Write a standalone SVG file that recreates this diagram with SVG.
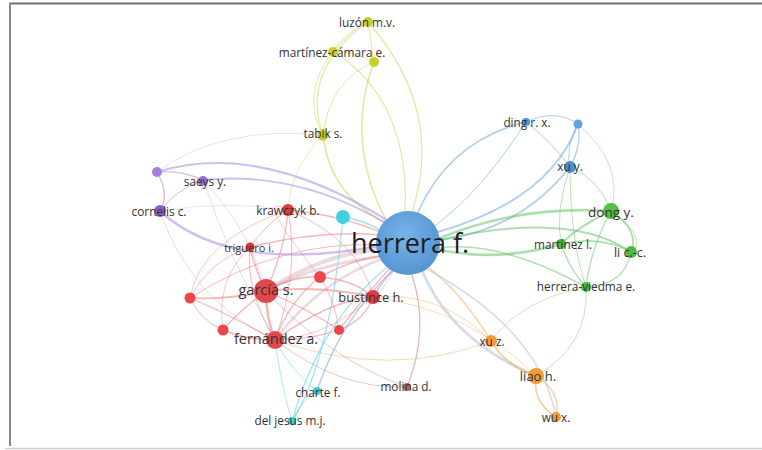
<svg xmlns="http://www.w3.org/2000/svg" width="762" height="450" viewBox="0 0 762 450">
<defs>
<radialGradient id="gH" cx="0.45" cy="0.4" r="0.6">
<stop offset="0" stop-color="#6fb0e6"/>
<stop offset="1" stop-color="#4d8fd0"/>
</radialGradient>
<style>
.e{fill:none;stroke-linecap:round;stroke-opacity:0.55}
.b{stroke:#6da7dc}
.r{stroke:#ee7b7b}
.g{stroke:#69c56a}
.y{stroke:#cdd45a}
.p{stroke:#a88be0}
.c{stroke:#4fd0e2}
.o{stroke:#f3a650}
.m{stroke:#c08079}
.x{stroke:#b9bfd0}
.l{stroke:#d9b9c6}
.t{font-family:"Open Sans","Liberation Sans",sans-serif;fill:#333;text-anchor:middle;dominant-baseline:central}
.s{font-size:11.8px}
.n{font-size:14.5px}
</style>
</defs>
<rect width="762" height="450" fill="#fff"/>
<line x1="9" y1="3.5" x2="762" y2="3.5" stroke="#6e6e6e" stroke-width="2"/>
<line x1="10" y1="3" x2="10" y2="446" stroke="#8a8a8a" stroke-width="2"/>
<line x1="5" y1="448.5" x2="762" y2="448.5" stroke="#d0d0d0" stroke-width="1.5"/>

<g id="connectors">
<!-- yellow -->
<path class="e y" stroke-width="1.3" d="M368,22 Q445,110 412,212"/>
<path class="e y" stroke-width="1.2" d="M333,51 Q410,100 405,212"/>
<path class="e y" stroke-width="1.6" d="M374,62 Q345,140 385,218"/>
<path class="e y" stroke-width="1.8" d="M323,135 Q330,195 385,222"/>
<path class="e y" stroke-width="1.2" d="M368,22 Q300,70 323,135"/>
<path class="e y" stroke-width="1.2" d="M333,51 Q350,30 368,22"/>
<path class="e y" stroke-width="1" d="M368,22 L374,62"/>
<path class="e y" stroke-width="1" d="M333,51 Q300,95 323,135"/>
<path class="e y" stroke-width="1" d="M374,62 Q330,80 323,135"/>
<path class="e y" stroke-width="1" d="M333,51 Q355,52 374,62"/>
<path class="e y" stroke-width="0.8" d="M323,135 Q290,170 288,210"/>
<path class="e x" stroke-width="0.8" d="M323,135 Q220,125 157,172"/>
<!-- purple -->
<path class="e p" stroke-width="2.2" d="M157,172 Q260,140 390,222"/>
<path class="e p" stroke-width="1.8" d="M203,180 Q300,170 390,226"/>
<path class="e p" stroke-width="2.4" d="M160,211 Q230,275 385,245"/>
<path class="e p" stroke-width="1.2" d="M157,172 Q180,170 203,180"/>
<path class="e p" stroke-width="1.4" d="M157,172 Q170,195 160,211"/>
<path class="e p" stroke-width="1" d="M203,180 Q175,190 160,211"/>
<path class="e l" stroke-width="0.9" d="M203,180 Q230,260 275,340"/>
<path class="e l" stroke-width="0.9" d="M160,211 Q190,300 275,340"/>
<path class="e l" stroke-width="0.9" d="M203,180 Q250,230 266,291"/>
<path class="e l" stroke-width="0.8" d="M160,211 Q230,200 288,210"/>
<!-- red -->
<path class="e l" stroke-width="4" d="M266,291 Q330,250 385,250"/>
<path class="e l" stroke-width="3" d="M266,291 Q320,262 388,256"/>
<path class="e l" stroke-width="2.5" d="M275,340 Q320,280 385,258"/>
<path class="e r" stroke-width="1.5" d="M250,247 Q320,230 380,235"/>
<path class="e r" stroke-width="1.3" d="M288,210 Q340,215 380,232"/>
<path class="e r" stroke-width="1.5" d="M373,297 Q390,270 395,270"/>
<path class="e r" stroke-width="1.5" d="M320,277 Q350,260 385,255"/>
<path class="e r" stroke-width="1.2" d="M339,330 Q370,290 390,268"/>
<path class="e r" stroke-width="1" d="M190,298 Q280,240 380,245"/>
<path class="e r" stroke-width="2.5" d="M266,291 Q266,318 275,340"/>
<path class="e r" stroke-width="1.5" d="M266,291 Q255,270 250,247"/>
<path class="e r" stroke-width="1.3" d="M266,291 Q285,250 288,210"/>
<path class="e r" stroke-width="1.8" d="M266,291 Q320,285 373,297"/>
<path class="e r" stroke-width="1.8" d="M266,291 Q230,300 190,298"/>
<path class="e r" stroke-width="1.5" d="M266,291 Q295,275 320,277"/>
<path class="e r" stroke-width="1.3" d="M266,291 Q240,310 223,330"/>
<path class="e r" stroke-width="1.3" d="M266,291 Q310,310 339,330"/>
<path class="e r" stroke-width="1.3" d="M275,340 Q220,310 190,298"/>
<path class="e r" stroke-width="1.3" d="M275,340 Q245,340 223,330"/>
<path class="e r" stroke-width="1.3" d="M275,340 Q310,340 339,330"/>
<path class="e r" stroke-width="1.5" d="M275,340 Q330,300 373,297"/>
<path class="e r" stroke-width="1.3" d="M275,340 Q290,300 320,277"/>
<path class="e r" stroke-width="1" d="M275,340 Q245,290 250,247"/>
<path class="e r" stroke-width="1" d="M275,340 Q300,270 288,210"/>
<path class="e r" stroke-width="1" d="M190,298 Q200,320 223,330"/>
<path class="e r" stroke-width="0.9" d="M190,298 Q210,260 250,247"/>
<path class="e r" stroke-width="1.3" d="M320,277 Q355,280 373,297"/>
<path class="e r" stroke-width="1.3" d="M339,330 Q365,320 373,297"/>
<path class="e r" stroke-width="1" d="M320,277 Q335,300 339,330"/>
<path class="e r" stroke-width="0.9" d="M288,210 Q360,240 373,297"/>
<path class="e r" stroke-width="1" d="M288,210 Q265,225 250,247"/>
<path class="e r" stroke-width="0.8" d="M288,210 Q200,240 190,298"/>
<path class="e r" stroke-width="0.8" d="M373,297 Q300,360 223,330"/>
<path class="e r" stroke-width="0.8" d="M223,330 Q215,280 250,247"/>
<path class="e r" stroke-width="0.8" d="M320,277 Q250,190 288,210"/>
<path class="e o" stroke-width="0.8" d="M275,340 Q390,380 491,341"/>
<path class="e o" stroke-width="0.8" d="M373,297 Q440,290 491,341"/>
<path class="e o" stroke-width="0.7" d="M373,297 Q470,310 536,376"/>
<path class="e m" stroke-width="0.8" d="M266,291 Q330,360 407,387"/>
<path class="e m" stroke-width="0.8" d="M275,340 Q340,390 407,387"/>
<!-- cyan -->
<path class="e c" stroke-width="1.5" d="M343,217 Q370,222 382,232"/>
<path class="e c" stroke-width="1.2" d="M343,217 Q330,360 292,422"/>
<path class="e b" stroke-width="1.5" d="M317,391 Q340,320 395,268"/>
<path class="e c" stroke-width="1.3" d="M292,422 Q320,320 390,265"/>
<path class="e c" stroke-width="1" d="M317,391 Q300,400 292,422"/>
<path class="e c" stroke-width="0.9" d="M292,422 Q280,380 275,340"/>
<path class="e c" stroke-width="0.9" d="M317,391 Q290,370 275,340"/>
<!-- molina -->
<path class="e m" stroke-width="1.3" d="M407,387 Q430,330 412,275"/>
<!-- blue -->
<path class="e b" stroke-width="1.6" d="M526,122 Q450,140 418,212"/>
<path class="e b" stroke-width="2" d="M578,124 Q550,200 438,232"/>
<path class="e b" stroke-width="1.8" d="M570,167 Q520,230 440,240"/>
<path class="e b" stroke-width="1" d="M526,122 Q555,108 578,124"/>
<path class="e b" stroke-width="1" d="M526,122 Q550,140 570,167"/>
<path class="e b" stroke-width="1.3" d="M578,124 Q582,145 570,167"/>
<path class="e b" stroke-width="1" d="M578,124 Q565,148 570,167"/>
<path class="e g" stroke-width="1" d="M570,167 Q600,180 611,211"/>
<path class="e g" stroke-width="0.9" d="M570,167 Q555,210 561,244"/>
<path class="e g" stroke-width="0.9" d="M570,167 Q570,240 586,287"/>
<path class="e g" stroke-width="0.8" d="M578,124 Q625,165 611,211"/>
<!-- green -->
<path class="e g" stroke-width="2.6" d="M611,211 Q520,205 440,238"/>
<path class="e g" stroke-width="2" d="M631,252 Q570,210 440,240"/>
<path class="e g" stroke-width="2.8" d="M561,244 Q500,262 440,250"/>
<path class="e g" stroke-width="1.5" d="M586,287 Q500,240 440,248"/>
<path class="e g" stroke-width="2" d="M611,211 Q580,225 561,244"/>
<path class="e g" stroke-width="1.8" d="M611,211 Q640,230 631,252"/>
<path class="e g" stroke-width="1.3" d="M611,211 Q590,250 586,287"/>
<path class="e g" stroke-width="1.6" d="M561,244 Q600,235 631,252"/>
<path class="e g" stroke-width="1.3" d="M561,244 Q570,270 586,287"/>
<path class="e g" stroke-width="1.2" d="M631,252 Q625,285 586,287"/>
<path class="e g" stroke-width="0.8" d="M611,211 Q650,240 631,252"/>
<path class="e g" stroke-width="0.8" d="M586,287 Q590,345 536,376"/>
<path class="e g" stroke-width="0.7" d="M586,287 Q520,300 491,341"/>
<!-- orange -->
<path class="e o" stroke-width="1.5" d="M491,341 Q460,290 425,265"/>
<path class="e x" stroke-width="3" d="M536,376 Q450,340 422,270"/>
<path class="e o" stroke-width="1.8" d="M536,376 Q505,365 491,341"/>
<path class="e x" stroke-width="1.5" d="M556,417 Q540,330 425,268"/>
<path class="e o" stroke-width="1.6" d="M536,376 Q532,402 556,417"/>
<path class="e o" stroke-width="1.3" d="M536,376 Q562,392 556,417"/>
<!-- herrera extra rays -->
<path class="e x" stroke-width="1" d="M408,243 Q380,300 372,297"/>
<path class="e b" stroke-width="1" d="M408,243 Q470,210 526,122"/>
</g>

<g id="n-herrera"><circle cx="408" cy="243" r="32" fill="url(#gH)" fill-opacity="0.95"/><text class="t" x="410" y="242" font-size="27" style="fill:#1e1e1e">herrera f.</text></g>
<g id="n-luzon"><circle cx="368" cy="22" r="5" fill="#c9cf2b"/><text class="t s" x="367" y="22">luzón m.v.</text></g>
<g id="n-martinez-camara"><circle cx="333" cy="52" r="5" fill="#c9cf2b"/><text class="t s" x="332" y="52">martínez-cámara e.</text></g>
<g id="n-yellow2"><circle cx="374" cy="62" r="5" fill="#c9cf2b"/></g>
<g id="n-tabik"><circle cx="323" cy="135" r="5.5" fill="#c9cf2b"/><text class="t s" x="323" y="133">tabik s.</text></g>
<g id="n-purple2"><circle cx="157" cy="172" r="5" fill="#a77de0"/></g>
<g id="n-saeys"><circle cx="203" cy="181" r="5" fill="#9a6cd6"/><text class="t s" x="205" y="181">saeys y.</text></g>
<g id="n-cornelis"><circle cx="160" cy="211" r="6" fill="#8e5ec8"/><text class="t s" x="159" y="211">cornelis c.</text></g>
<g id="n-krawczyk"><circle cx="288" cy="210" r="6" fill="#e0393d"/><text class="t s" x="288" y="210">krawczyk b.</text></g>
<g id="n-cyan"><circle cx="343" cy="217" r="7" fill="#3fd0e2"/></g>
<g id="n-triguero"><circle cx="250" cy="247" r="4.5" fill="#d8393d"/><text class="t" x="249" y="247" font-size="11">triguero i.</text></g>
<g id="n-garcia"><circle cx="266" cy="291" r="12" fill="#e4474b"/><text class="t n" x="266" y="289">garcía s.</text></g>
<g id="n-red1"><circle cx="190" cy="298" r="5.5" fill="#e8484c"/></g>
<g id="n-red2"><circle cx="320" cy="277" r="6" fill="#e8484c"/></g>
<g id="n-bustince"><circle cx="373" cy="297" r="7" fill="#e0393d"/><text class="t" x="371" y="297" font-size="12.8">bustince h.</text></g>
<g id="n-red3"><circle cx="223" cy="330" r="5.5" fill="#e8484c"/></g>
<g id="n-red4"><circle cx="339" cy="330" r="5" fill="#e8484c"/></g>
<g id="n-fernandez"><circle cx="275" cy="340" r="9" fill="#e4474b"/><text class="t n" x="276" y="338">fernández a.</text></g>
<g id="n-charte"><circle cx="317" cy="391" r="4" fill="#3fc9df"/><text class="t s" x="318" y="392">charte f.</text></g>
<g id="n-deljesus"><circle cx="292" cy="421" r="4" fill="#3fc9df"/><text class="t s" x="290" y="420">del jesus m.j.</text></g>
<g id="n-molina"><circle cx="407" cy="387" r="4" fill="#b9615a"/><text class="t s" x="406" y="386">molina d.</text></g>
<g id="n-ding"><circle cx="526" cy="122" r="4" fill="#4e94d4"/><text class="t s" x="527" y="122">ding r. x.</text></g>
<g id="n-blue2"><circle cx="578" cy="124" r="4.5" fill="#5ea2de"/></g>
<g id="n-xuy"><circle cx="570" cy="167" r="6" fill="#4a8fd0"/><text class="t s" x="570" y="166">xu y.</text></g>
<g id="n-dong"><circle cx="611" cy="211" r="8" fill="#55bf46"/><text class="t" x="611" y="212" font-size="13.5">dong y.</text></g>
<g id="n-martinezl"><circle cx="561" cy="244" r="5" fill="#4db83f"/><text class="t s" x="563" y="244">martínez l.</text></g>
<g id="n-li"><circle cx="631" cy="252" r="6" fill="#4db83f"/><text class="t" x="630" y="252" font-size="12.5">li c.-c.</text></g>
<g id="n-herrera-viedma"><circle cx="586" cy="287" r="5" fill="#4db83f"/><text class="t s" x="586" y="286">herrera-viedma e.</text></g>
<g id="n-xuz"><circle cx="491" cy="341" r="6" fill="#f29a3a"/><text class="t s" x="492" y="341">xu z.</text></g>
<g id="n-liao"><circle cx="536" cy="376" r="8" fill="#f29a3a"/><text class="t" x="538" y="376" font-size="13">liao h.</text></g>
<g id="n-wu"><circle cx="556" cy="417" r="5" fill="#f29a3a"/><text class="t s" x="556" y="417">wu x.</text></g>
</svg>
